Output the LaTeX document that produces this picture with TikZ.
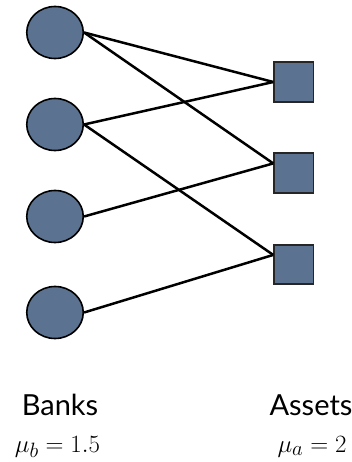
\documentclass[tikz,border=0pt]{standalone}
\usepackage{fontspec}
\newfontfamily\gillfont{Lato}
\usetikzlibrary{shapes.geometric}
\definecolor{slate}{RGB}{91,115,145}
\begin{document}
\begin{tikzpicture}[x=1pt,y=-1pt,line width=2.5pt,
  bank/.style={ellipse,draw=black,fill=slate,line width=1.6pt,minimum width=56.5pt,minimum height=52pt,inner sep=0pt},
  asset/.style={rectangle,draw=black!85,fill=slate,line width=1.6pt,minimum size=39.5pt,inner sep=0pt},
  word/.style={anchor=base,font=\gillfont\fontsize{29}{34}\selectfont,inner sep=0pt},
  param/.style={anchor=base,font=\fontsize{32}{38}\selectfont,inner sep=0pt}]
  \useasboundingbox (0,0) rectangle (352,462);
  \node[bank] (b1) at (55,32.5) {};
  \node[bank] (b2) at (55,124.5) {};
  \node[bank] (b3) at (55,216.5) {};
  \node[bank] (b4) at (55,312.5) {};
  \node[asset] (a1) at (293.8,82) {};
  \node[asset] (a2) at (293.8,173) {};
  \node[asset] (a3) at (293.8,264.5) {};
  \draw (b1.east)--(a1.west);
  \draw (b1.east)--(a2.155);
  \draw (b2.east)--(a1.west);
  \draw (b2.east)--(a3.155);
  \draw (b3.east)--(a2.155);
  \draw (b4.east)--(a3.155);
  \node[word] (banks) at (60,415) {Banks};
  \node[param] (mub) at (57.5,452) {$\mu_b=1.5$};
  \node[word] (assets) at (311,415) {Assets};
  \node[param] (mua) at (312,452) {$\mu_a=2$};
\end{tikzpicture}
\end{document}
